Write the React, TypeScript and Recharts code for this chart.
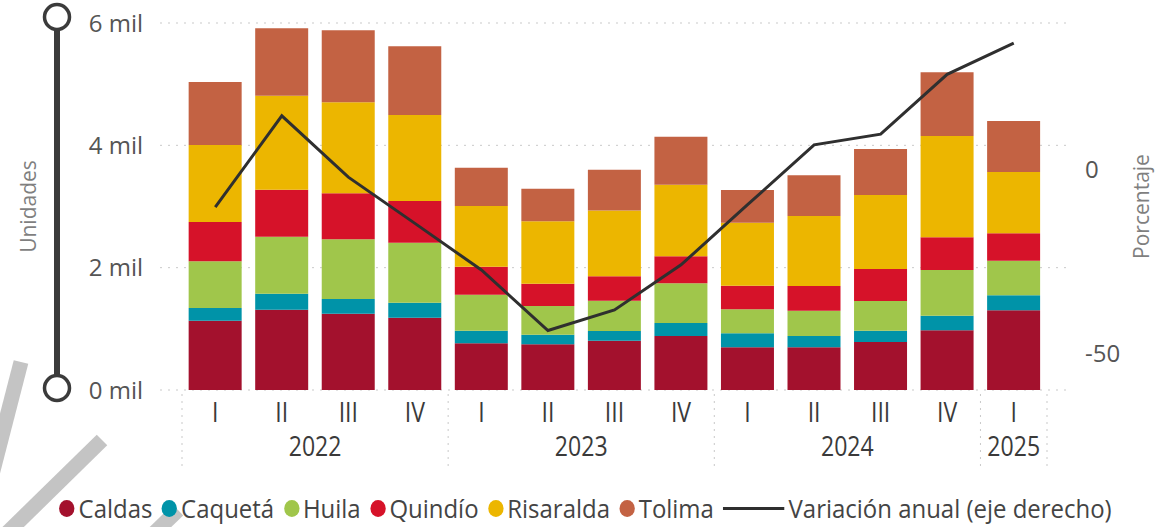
import React from "react";
import { ComposedChart, Bar, Line, XAxis, YAxis, CartesianGrid, Legend } from "recharts";

const quarters = ["I", "II", "III", "IV", "I", "II", "III", "IV", "I", "II", "III", "IV", "I"];
const years = ["2022", "2022", "2022", "2022", "2023", "2023", "2023", "2023", "2024", "2024", "2024", "2024", "2025"];

const caldas = [1133, 1313, 1248, 1183, 763, 747, 806, 883, 698, 698, 785, 976, 1303];
const caqueta = [208, 262, 240, 245, 207, 158, 159, 212, 229, 185, 185, 239, 245];
const huila = [763, 932, 976, 981, 589, 468, 495, 649, 392, 414, 485, 747, 566];
const quindio = [643, 768, 752, 681, 457, 365, 401, 442, 387, 403, 523, 535, 448];
const risaralda = [1259, 1537, 1488, 1406, 992, 1020, 1073, 1171, 1030, 1145, 1210, 1656, 1002];
const tolima = [1030, 1101, 1176, 1123, 627, 534, 665, 785, 534, 665, 752, 1041, 834];
const variacion = [-10.2, 14.7, -2.0, -14.6, -27.3, -43.8, -38.2, -25.9, -9.5, 6.8, 9.7, 26.0, 34.5];

const leftTicks = [0, 2000, 4000, 6000];
const rightTicks = [-50, 0];

const series = [
  { key: "Caldas", values: caldas, color: "#A3112D" },
  { key: "Caquetá", values: caqueta, color: "#0093A8" },
  { key: "Huila", values: huila, color: "#A0C64B" },
  { key: "Quindío", values: quindio, color: "#D61229" },
  { key: "Risaralda", values: risaralda, color: "#ECB600" },
  { key: "Tolima", values: tolima, color: "#C36243" }
];
const lineName = "Variación anual (eje derecho)";

const data = quarters.map((q, i) => {
  const row: Record<string, string | number> = { id: `${years[i]}-${q}`, q, year: years[i], variacion: variacion[i] };
  series.forEach((s) => (row[s.key] = s.values[i]));
  return row;
});

const FONT = "'Open Sans', 'DejaVu Sans', sans-serif";
const GRID = "#c9c9c9";

// labels under the bars look a bit narrow, so squeeze them horizontally
function Narrow({ x, y, children }: any) {
  return (
    <text x={x} y={y} textAnchor="middle" transform={`translate(${x} 0) scale(0.87 1) translate(${-x} 0)`}>
      {children}
    </text>
  );
}

function CategoryTick(props: any) {
  const { x, y, payload } = props;
  const i = props.index ?? payload.index;
  const half = payload.offset ?? 33.3;
  const year = years[i];
  const first = years.indexOf(year);
  const last = years.lastIndexOf(year);
  return (
    <g fontFamily={FONT} fontSize={26.5} fill="#3a3a3a">
      <Narrow x={x} y={y + 32}>{quarters[i]}</Narrow>
      {i === first && (
        <>
          <Narrow x={x + (last - first) * half} y={y + 66}>{year}</Narrow>
          <line x1={x - half} x2={x - half} y1={y + 4} y2={y + 77} stroke={GRID} strokeDasharray="2 5" />
        </>
      )}
      {i === quarters.length - 1 && (
        <line x1={x + half} x2={x + half} y1={y + 4} y2={y + 77} stroke={GRID} strokeDasharray="2 5" />
      )}
    </g>
  );
}

function AxisTitle({ viewBox, text, x }: any) {
  const cy = viewBox.y + viewBox.height / 2;
  return (
    <text x={x} y={cy} transform={`rotate(-90 ${x} ${cy})`} textAnchor="middle" fontFamily={FONT} fontSize={21} fill="#7f7f7f">
      {text}
    </text>
  );
}

function LegendRow() {
  return (
    <div style={{ display: "flex", justifyContent: "center", transform: "scaleX(0.958)", transformOrigin: "50% 0", whiteSpace: "nowrap" }}>
      <div style={{ display: "flex", alignItems: "center", fontFamily: FONT, fontSize: 25, color: "#444", lineHeight: "32px" }}>
        {series.map((s) => (
          <span key={s.key} style={{ display: "flex", alignItems: "center", marginRight: 10 }}>
            <span style={{ width: 16, height: 17, borderRadius: "50%", background: s.color, marginRight: 4 }} />
            {s.key}
          </span>
        ))}
        <span style={{ display: "flex", alignItems: "center" }}>
          <span style={{ width: 64, height: 3, background: "#2f2f2f", marginRight: 4 }} />
          {lineName}
        </span>
      </div>
    </div>
  );
}

export default function App() {
  return (
    <div style={{ position: "absolute", left: 0, top: 0, width: 1159, height: 527, background: "#fff" }}>
      <svg width={1159} height={527} style={{ position: "absolute", left: 0, top: 0 }}>
        <g stroke="#c4c4c4" strokeWidth={15}>
          <line x1={21} y1={362} x2={-12} y2={490} />
          <line x1={102} y1={440} x2={5} y2={535} />
          <line x1={178} y1={510} x2={145} y2={542} />
        </g>
        <line x1={57} y1={30} x2={57} y2={376} stroke="#3b3b3b" strokeWidth={6} />
        <circle cx={57} cy={17} r={12.5} fill="#fff" stroke="#3b3b3b" strokeWidth={3.5} />
        <circle cx={57} cy={388} r={12.5} fill="#fff" stroke="#3b3b3b" strokeWidth={3.5} />
      </svg>
      <div style={{ position: "absolute", left: 0, top: 0 }}>
        <ComposedChart width={1159} height={527} data={data} margin={{ top: 23, right: 0, bottom: 0, left: 0 }} barCategoryGap="10%">
          <CartesianGrid yAxisId="left" vertical={false} stroke={GRID} strokeDasharray="2 6" />
          <XAxis
            dataKey="id"
            height={137}
            padding={{ left: 22, right: 20 }}
            axisLine={false}
            tickLine={false}
            tickSize={0}
            tickMargin={0}
            interval={0}
            tick={<CategoryTick />}
          />
          <YAxis
            yAxisId="left"
            width={160}
            domain={[0, 6000]}
            ticks={leftTicks}
            axisLine={false}
            tickLine={false}
            tickSize={0}
            tickMargin={17}
            tickFormatter={(v: number) => `${v / 1000} mil`}
            tick={{ fontFamily: FONT, fontSize: 24, fill: "#555" }}
            label={(p: any) => <AxisTitle {...p} text="Unidades" x={36} />}
          />
          <YAxis
            yAxisId="right"
            orientation="right"
            width={92}
            domain={[-60, 40]}
            ticks={rightTicks}
            axisLine={false}
            tickLine={false}
            tickSize={0}
            tickMargin={18}
            tick={{ fontFamily: FONT, fontSize: 24, fill: "#555", textAnchor: "start" }}
            label={(p: any) => <AxisTitle {...p} text="Porcentaje" x={1149} />}
          />
          {series.map((s) => (
            <Bar key={s.key} dataKey={s.key} stackId="a" yAxisId="left" fill={s.color} isAnimationActive={false} />
          ))}
          <Line
            dataKey="variacion"
            yAxisId="right"
            type="linear"
            stroke="#2f2f2f"
            strokeWidth={3}
            dot={false}
            activeDot={false}
            isAnimationActive={false}
          />
          <Legend
            content={() => <LegendRow />}
            layout="horizontal"
            align="center"
            verticalAlign="middle"
            wrapperStyle={{ left: 6, top: 492, width: 1159, height: 32 }}
          />
        </ComposedChart>
      </div>
    </div>
  );
}
